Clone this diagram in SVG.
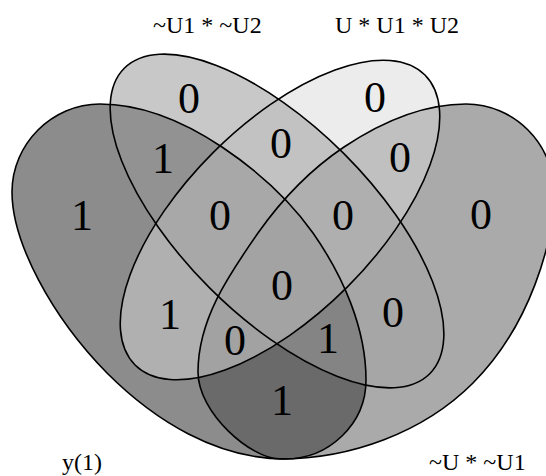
<svg xmlns="http://www.w3.org/2000/svg" xmlns:xlink="http://www.w3.org/1999/xlink" width="546" height="476" viewBox="0 0 546 476">
<style>
.out{fill:none;stroke:#000;stroke-width:1.6}
.num{font-family:"Liberation Serif","Times New Roman",serif;font-size:44px;text-anchor:middle;fill:#000}
.lbl{font-family:"Liberation Serif","Times New Roman",serif;font-size:24px;fill:#000}
</style>
<defs>
<path id="A" d="M100,104 C52,104 12,144 12,192 C12,242 51,316 107,373 C155,421 217,459 285,459 C329,459 366,424 366,380 C366,328 343,276 313,233 C289,199 257,170.5 222,147 C186,123 143,104 100,104 Z"/>
<path id="D" d="M466,104 C514,104 554,144 554,192 C554,242 530,326 473,383 C423,433 350,459 280,459 C251,459 198,413 198,372 C198,320 228,276 258,233 C282,199 309,170.5 344,147 C380,123 421,104 466,104 Z"/>
<ellipse id="B" cx="277" cy="221" rx="216" ry="95" transform="rotate(45 277 221)"/>
<ellipse id="C" cx="280" cy="220" rx="205" ry="95" transform="rotate(-45 280 220)"/>
<clipPath id="cA"><use xlink:href="#A"/></clipPath>
<clipPath id="cB"><use xlink:href="#B"/></clipPath>
<clipPath id="cC"><use xlink:href="#C"/></clipPath>
<clipPath id="cD"><use xlink:href="#D"/></clipPath>
</defs>
<g id="fills">
<use xlink:href="#A" fill="#8c8c8c"/>
<use xlink:href="#B" fill="#c8c8c8"/>
<use xlink:href="#C" fill="#ececec"/>
<use xlink:href="#D" fill="#aaaaaa"/>
<g clip-path="url(#cA)"><use xlink:href="#B" fill="#929292"/></g>
<g clip-path="url(#cA)"><use xlink:href="#C" fill="#b0b0b0"/></g>
<g clip-path="url(#cA)"><use xlink:href="#D" fill="#6a6a6a"/></g>
<g clip-path="url(#cB)"><use xlink:href="#C" fill="#c2c2c2"/></g>
<g clip-path="url(#cB)"><use xlink:href="#D" fill="#a6a6a6"/></g>
<g clip-path="url(#cC)"><use xlink:href="#D" fill="#c0c0c0"/></g>
<g clip-path="url(#cA)"><g clip-path="url(#cB)"><use xlink:href="#C" fill="#a8a8a8"/></g></g>
<g clip-path="url(#cA)"><g clip-path="url(#cB)"><use xlink:href="#D" fill="#848484"/></g></g>
<g clip-path="url(#cA)"><g clip-path="url(#cC)"><use xlink:href="#D" fill="#a2a2a2"/></g></g>
<g clip-path="url(#cB)"><g clip-path="url(#cC)"><use xlink:href="#D" fill="#afafaf"/></g></g>
<g clip-path="url(#cA)"><g clip-path="url(#cB)"><g clip-path="url(#cC)"><use xlink:href="#D" fill="#a3a3a3"/></g></g></g>
</g>
<g id="set-y1">
<use xlink:href="#A" class="out"/>
<text class="lbl" x="62" y="470">y(1)</text>
</g>
<g id="set-nU1nU2">
<use xlink:href="#B" class="out"/>
<text class="lbl" x="153" y="33">~U1 * ~U2</text>
</g>
<g id="set-UU1U2">
<use xlink:href="#C" class="out"/>
<text class="lbl" x="335" y="33">U * U1 * U2</text>
</g>
<g id="set-nUnU1">
<use xlink:href="#D" class="out"/>
<text class="lbl" x="429" y="470">~U * ~U1</text>
</g>
<g id="values">
<text class="num" x="82" y="230">1</text>
<text class="num" x="189" y="113">0</text>
<text class="num" x="375" y="112">0</text>
<text class="num" x="481" y="229">0</text>
<text class="num" x="163" y="173">1</text>
<text class="num" x="281" y="158">0</text>
<text class="num" x="400" y="172">0</text>
<text class="num" x="220" y="230">0</text>
<text class="num" x="343" y="230">0</text>
<text class="num" x="282" y="300">0</text>
<text class="num" x="170" y="329">1</text>
<text class="num" x="393" y="327">0</text>
<text class="num" x="235" y="355">0</text>
<text class="num" x="328" y="353">1</text>
<text class="num" x="282" y="415">1</text>
</g>
</svg>
